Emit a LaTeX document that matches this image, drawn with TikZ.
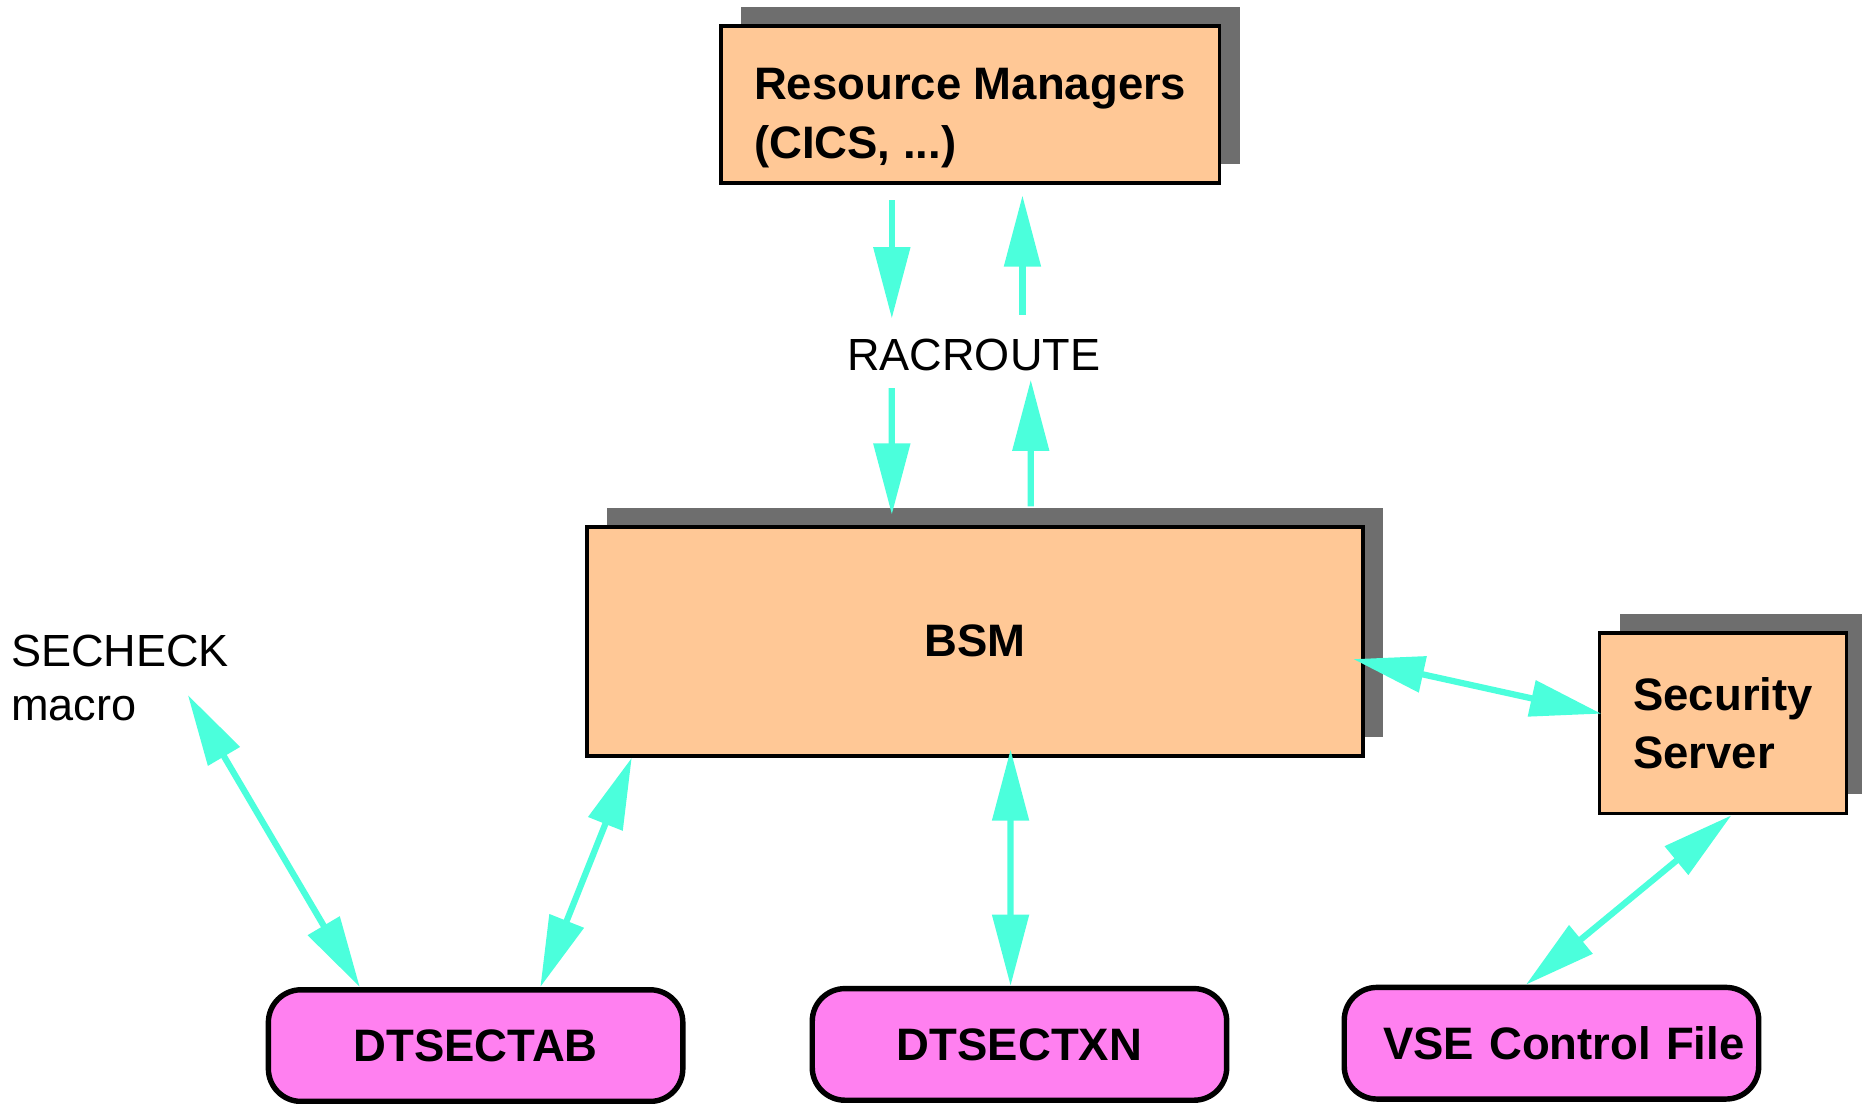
\documentclass[tikz,border=0pt]{standalone}
\usepackage{fontspec}
\setmainfont{Liberation Sans}
\usetikzlibrary{arrows.meta,shadows}
\definecolor{peach}{RGB}{255,200,150}
\definecolor{orchid}{RGB}{255,128,240}
\definecolor{aqua}{RGB}{75,255,220}
\definecolor{shade}{RGB}{110,110,110}
\tikzset{
  mgrbox/.style={draw=black, line width=1.8pt, fill=peach, inner sep=0pt, align=left,
    font=\bfseries\fontsize{21.8}{28.2}\selectfont,
    drop shadow={shadow xshift=0.34cm, shadow yshift=0.32cm, fill=shade, opacity=1}},
  dataset/.style={draw=black, line width=2.6pt, fill=orchid, rounded corners=0.55cm,
    minimum width=6.98cm, minimum height=1.88cm, inner sep=0pt,
    font=\bfseries\fontsize{21.8}{28}\selectfont},
  lbl/.style={inner sep=0pt, align=left, font=\fontsize{21.6}{26}\selectfont},
  oneway/.style={draw=aqua, line width=3pt, ->},
  twoway/.style={draw=aqua, line width=3pt, <->},
  >={Triangle[length=1.2cm,width=0.6cm]}
}

\begin{document}
\begin{tikzpicture}
\useasboundingbox (0,0) rectangle (31.36,18.58);

%boxes
\node[mgrbox, minimum width=8.40cm, minimum height=2.64cm] (rm) at (16.34,16.82) {\rule{0pt}{0.98cm}Resource Managers\\(CICS, ...)};
\node[mgrbox, minimum width=13.08cm, minimum height=3.86cm] (bsm) at (16.42,7.78) {BSM};
\node[mgrbox, minimum width=4.16cm, minimum height=3.04cm] (srv) at (29.02,6.40) {Security\\Server};

\node[dataset] (tab) at (8.01,0.97) {DTSECTAB};
\node[dataset] (txn) at (17.17,0.99) {DTSECTXN};
\node[dataset, text width=6.5cm, align=right] (vse) at (26.13,1.01) {VSE Control File};

%labels
\node[lbl] (rac) at (16.40,12.60) {RACROUTE};
\node[lbl, anchor=north west] (mac) at (0.18,7.90) {SECHECK\\macro};

%racroute calls
\draw[oneway, shorten <=0.26cm, shorten >=0.34cm] ([xshift=-1.32cm]rm.south) -- ([xshift=-1.38cm]rac.north);
\draw[oneway, shorten <=0.40cm, shorten >=0.18cm] ([xshift=0.82cm]rac.north) -- ([xshift=0.88cm]rm.south);
\draw[oneway, shorten <=0.28cm, shorten >=0.17cm] ([xshift=-1.38cm]rac.south) -- ([xshift=-1.40cm]bsm.north);
\draw[oneway, shorten <=0.31cm, shorten >=0.14cm] ([xshift=0.94cm]bsm.north) -- ([xshift=0.96cm]rac.south);

%exchanges
\draw[twoway] ([xshift=-1.95cm]tab.north) -- ([xshift=-0.70cm,yshift=0.44cm]mac.south east);
\draw[twoway] ([xshift=1.09cm]tab.north) -- ([xshift=-5.78cm]bsm.south);
\draw[twoway] ([xshift=-0.15cm]txn.north) -- ([xshift=0.60cm,yshift=0.14cm]bsm.south);
\draw[twoway] ([xshift=-0.20cm,yshift=-0.30cm]bsm.east) -- ([xshift=0.06cm,yshift=0.16cm]srv.west);
\draw[twoway] ([xshift=-0.43cm]vse.north) -- ([xshift=0.14cm]srv.south);

\end{tikzpicture}
\end{document}
